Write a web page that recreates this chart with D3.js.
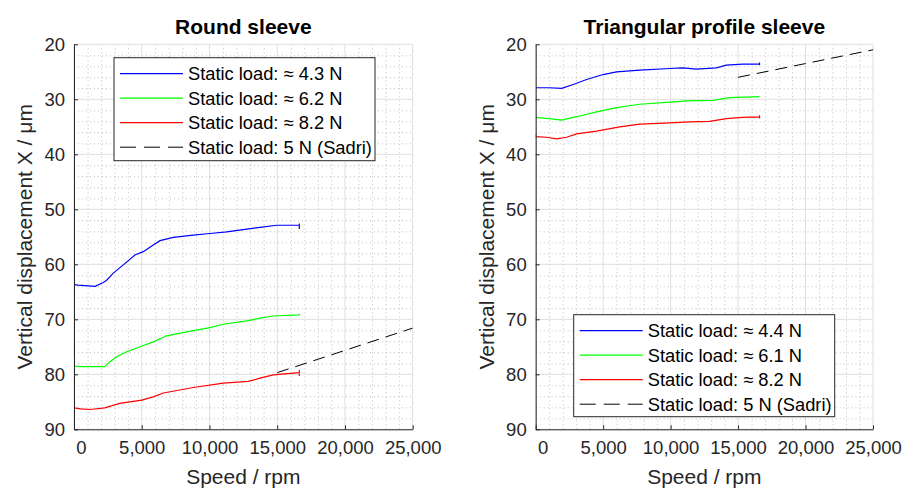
<!DOCTYPE html>
<html>
<head>
<meta charset="utf-8">
<script src="https://cdn.jsdelivr.net/npm/d3@7/dist/d3.min.js"></script>
<style>
  html, body { margin: 0; padding: 0; background: #fff; }
  svg { display: block; font-family: "Liberation Sans", Arial, Helvetica, sans-serif; }
</style>
</head>
<body>
<svg id="chart" width="908" height="489"></svg>
<script>
// Axis ticks shared by both panels
const speedTicks = [0, 5000, 10000, 15000, 20000, 25000];
const dispTicks = [20, 30, 40, 50, 60, 70, 80, 90];

// Round sleeve measurements: [speed rpm, displacement µm]
const roundLoad43 = [[0, 64.7], [0, 63.7], [300, 63.8], [1550, 64.0], [2160, 63.3], [2410, 62.9], [2900, 61.6],
  [3640, 60.1], [4500, 58.3], [5110, 57.7], [5850, 56.5], [6350, 55.7], [7330, 55.1], [8800, 54.7],
  [10030, 54.4], [11270, 54.1], [12750, 53.6], [13730, 53.3], [14960, 52.9], [16630, 52.9], [16630, 52.6], [16630, 53.6]];
const roundLoad62 = [[0, 77.7], [0, 78.5], [600, 78.6], [1430, 78.6], [2270, 78.6], [2660, 77.7], [3150, 76.8],
  [3890, 75.9], [4870, 75.0], [5850, 74.1], [6840, 73.0], [8320, 72.3], [10030, 71.5], [11020, 70.9],
  [12750, 70.3], [13730, 69.8], [14710, 69.4], [16630, 69.2], [16630, 69.0], [16630, 69.3]];
const roundLoad82 = [[0, 84.1], [0, 86.1], [500, 86.3], [1180, 86.4], [2270, 86.1], [3370, 85.3], [5000, 84.7],
  [5850, 84.1], [6590, 83.4], [8800, 82.4], [11020, 81.6], [12860, 81.3], [13730, 80.7], [14710, 80.1],
  [16630, 79.7], [16630, 79.2], [16630, 80.3]];
const roundSadri = [[15000, 79.7], [25000, 71.6]];

// Triangular profile sleeve measurements
const triLoad44 = [[0, 27.9], [1000, 27.9], [1920, 28.0], [2780, 27.3], [3770, 26.4], [5000, 25.5], [5990, 25.0],
  [7710, 24.7], [9930, 24.4], [10920, 24.3], [11910, 24.5], [13390, 24.3], [14130, 23.8], [15350, 23.6],
  [16590, 23.6], [16590, 23.3], [16590, 23.8]];
const triLoad61 = [[0, 33.3], [1000, 33.5], [1920, 33.8], [2780, 33.3], [3520, 32.9], [4510, 32.3], [5990, 31.5],
  [7710, 30.9], [9930, 30.5], [11170, 30.3], [13140, 30.2], [14370, 29.7], [16590, 29.5]];
const triLoad82 = [[0, 36.3], [0, 36.8], [800, 36.9], [1550, 37.2], [2290, 36.9], [3030, 36.3], [4510, 35.8],
  [6230, 35.0], [7710, 34.5], [9930, 34.3], [11410, 34.1], [12890, 34.0], [14130, 33.5], [15350, 33.3],
  [16590, 33.2], [16590, 32.9], [16590, 33.5]];
const triSadri = [[15000, 26.0], [25000, 21.0]];

const roundLabels = ["Static load: \u2248 4.3 N", "Static load: \u2248 6.2 N", "Static load: \u2248 8.2 N", "Static load: 5 N (Sadri)"];
const triLabels = ["Static load: \u2248 4.4 N", "Static load: \u2248 6.1 N", "Static load: \u2248 8.2 N", "Static load: 5 N (Sadri)"];
const seriesColors = ["#0000ff", "#00ff00", "#ff0000", "#000000"];

const svg = d3.select("#chart");
const axisColor = "#262626";

function drawPanel(opts) {
  const { left, right, top, bottom, title, series, labels, legendBox } = opts;
  const x = d3.scaleLinear().domain([0, 25000]).range([left, right]);
  const y = d3.scaleLinear().domain([20, 90]).range([top, bottom]);
  const g = svg.append("g");

  // minor grid (dotted)
  const minorX = d3.range(1000, 25000, 1000).filter(v => v % 5000 !== 0);
  const minorY = d3.range(22, 90, 2).filter(v => v % 10 !== 0);
  g.append("g").selectAll("line").data(minorX).join("line")
    .attr("x1", d => x(d) + 0.5).attr("x2", d => x(d) + 0.5)
    .attr("y1", top).attr("y2", bottom)
    .attr("stroke", "#bdbdbd").attr("stroke-width", 1).attr("stroke-dasharray", "1,3");
  g.append("g").selectAll("line").data(minorY).join("line")
    .attr("y1", d => y(d) + 0.5).attr("y2", d => y(d) + 0.5)
    .attr("x1", left).attr("x2", right)
    .attr("stroke", "#bdbdbd").attr("stroke-width", 1).attr("stroke-dasharray", "1,3");

  // major grid
  g.append("g").selectAll("line").data(speedTicks).join("line")
    .attr("x1", d => x(d)).attr("x2", d => x(d))
    .attr("y1", top).attr("y2", bottom)
    .attr("stroke", "#dfdfdf").attr("stroke-width", 1);
  g.append("g").selectAll("line").data(dispTicks).join("line")
    .attr("y1", d => y(d)).attr("y2", d => y(d))
    .attr("x1", left).attr("x2", right)
    .attr("stroke", "#dfdfdf").attr("stroke-width", 1);

  // data lines, clipped to the axes
  const clipId = "clip" + Math.round(left);
  svg.append("clipPath").attr("id", clipId).append("rect")
    .attr("x", left).attr("y", top).attr("width", right - left).attr("height", bottom - top);
  const line = d3.line().x(d => x(d[0])).y(d => y(d[1]));
  const plot = g.append("g").attr("clip-path", `url(#${clipId})`);
  series.forEach((s, i) => {
    plot.append("path").datum(s).attr("d", line)
      .attr("fill", "none").attr("stroke", seriesColors[i])
      .attr("stroke-width", i === 3 ? 1 : 1.2)
      .attr("stroke-dasharray", i === 3 ? "12,7" : null);
  });

  // axes
  const xAxis = d3.axisBottom(x).tickValues(speedTicks).tickSizeInner(-4).tickSizeOuter(0)
    .tickPadding(12).tickFormat(d3.format(","));
  const xg = g.append("g").attr("transform", `translate(0,${bottom})`).call(xAxis);
  xg.select(".domain").attr("stroke", axisColor);
  xg.selectAll(".tick line").attr("stroke", axisColor);
  xg.selectAll(".tick text").attr("fill", axisColor).style("font-size", "18.5px")
    .attr("dx", d => d === 0 ? 7 : 0).attr("dy", "0.71em");

  const yAxis = d3.axisLeft(y).tickValues(dispTicks).tickSizeInner(-4).tickSizeOuter(0).tickPadding(9);
  const yg = g.append("g").attr("transform", `translate(${left},0)`).call(yAxis);
  yg.select(".domain").attr("stroke", axisColor);
  yg.selectAll(".tick line").attr("stroke", axisColor);
  yg.selectAll(".tick text").attr("fill", axisColor).style("font-size", "18.5px");

  // titles and axis labels
  const cx = (left + right) / 2;
  g.append("text").attr("x", cx).attr("y", 34).attr("text-anchor", "middle")
    .style("font-size", "21px").style("font-weight", "bold").attr("fill", "#000").text(title);
  g.append("text").attr("x", cx).attr("y", 484).attr("text-anchor", "middle")
    .style("font-size", "21px").attr("fill", axisColor).text("Speed / rpm");
  g.append("text").attr("transform", `translate(${left - 42},${(top + bottom) / 2}) rotate(-90)`)
    .attr("text-anchor", "middle").style("font-size", "21px").attr("fill", axisColor)
    .text("Vertical displacement X / \u03bcm");

  // legend
  const lg = g.append("g");
  lg.append("rect").attr("x", legendBox.x).attr("y", legendBox.y)
    .attr("width", legendBox.w).attr("height", legendBox.h)
    .attr("fill", "#fff").attr("stroke", axisColor).attr("stroke-width", 1);
  labels.forEach((lab, i) => {
    const ry = legendBox.y + 16 + i * 24.5;
    lg.append("line").attr("x1", legendBox.x + 6).attr("x2", legendBox.x + 69)
      .attr("y1", ry).attr("y2", ry)
      .attr("stroke", seriesColors[i]).attr("stroke-width", i === 3 ? 1 : 1.2)
      .attr("stroke-dasharray", i === 3 ? "16,8" : null);
    lg.append("text").attr("x", legendBox.x + 74).attr("y", ry).attr("dy", "0.35em")
      .style("font-size", "18.3px").attr("fill", "#000").text(lab);
  });
}

drawPanel({
  left: 74, right: 412.7, top: 44.3, bottom: 429.3,
  title: "Round sleeve",
  series: [roundLoad43, roundLoad62, roundLoad82, roundSadri],
  labels: roundLabels,
  legendBox: { x: 114, y: 57.7, w: 261, h: 103 }
});

drawPanel({
  left: 535.7, right: 873, top: 44.3, bottom: 429.3,
  title: "Triangular profile sleeve",
  series: [triLoad44, triLoad61, triLoad82, triSadri],
  labels: triLabels,
  legendBox: { x: 573.7, y: 314.7, w: 261, h: 102 }
});
</script>
</body>
</html>
